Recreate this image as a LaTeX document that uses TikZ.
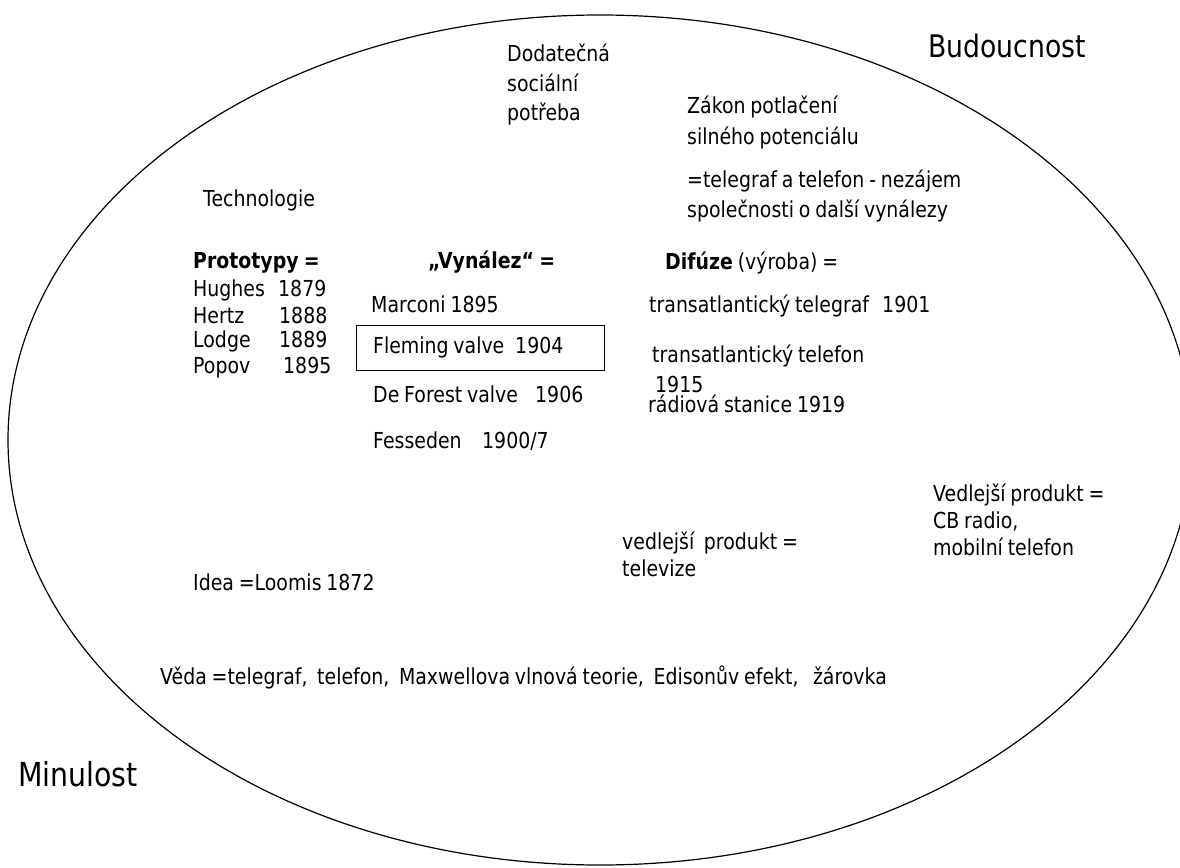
\documentclass[tikz,border=0pt]{standalone}
\usepackage{fontspec}
\setmainfont{DejaVu Sans}[FakeStretch=0.86, WordSpace=0.8]
\begin{document}
\begin{tikzpicture}[x=1pt,y=-1pt,
  txt/.style={anchor=base west, inner sep=0pt, font=\fontsize{22}{26}\selectfont},
  big/.style={anchor=base west, inner sep=0pt, font=\fontsize{31}{36}\selectfont},
  outline/.style={line width=1.2pt, draw=black}]
\useasboundingbox (0,0) rectangle (1180,867);
\clip (0,0) rectangle (1180,867);
\draw[outline] (600,440) ellipse [x radius=592pt, y radius=425pt];

\node[big] (budoucnost) at (928,58) {Budoucnost};
\node[big, font=\fontsize{33}{38}\selectfont] (minulost) at (18,786) {Minulost};

\node[txt] (dod1) at (507,62) {Dodatečná};
\node[txt] (dod2) at (507,91) {sociální};
\node[txt] (dod3) at (507,120) {potřeba};

\node[txt] (zak1) at (687,113) {Zákon potlačení};
\node[txt] (zak2) at (687,144) {silného potenciálu};
\node[txt] (zak3) at (687,187) {=telegraf a telefon - nezájem};
\node[txt] (zak4) at (687,217) {společnosti o další vynálezy};

\node[txt] (tech) at (203,206) {Technologie};

\node[txt] (proto) at (193,268) {\textbf{Prototypy =}};
\node[txt] (p1) at (193,296) {\makebox[85pt][l]{Hughes}1879};
\node[txt] (p2) at (193,323) {\makebox[86pt][l]{Hertz}1888};
\node[txt] (p3) at (193,347) {\makebox[86pt][l]{Lodge}1889};
\node[txt] (p4) at (193,373) {\makebox[90pt][l]{Popov}1895};

\node[txt] (vyn) at (428,268) {\textbf{„Vynález“ =}};
\node[txt] (v1) at (371,312) {Marconi 1895};
\node[outline, anchor=north west, minimum width=248pt, minimum height=45pt, inner sep=0pt] (box) at (356,325) {};
\node[txt] (v2) at (373,353) {\makebox[142pt][l]{Fleming valve}1904};
\node[txt] (v3) at (373,402) {\makebox[162pt][l]{De Forest valve}1906};
\node[txt] (v4) at (373,448) {\makebox[109pt][l]{Fesseden}1900/7};

\node[txt] (dif) at (665,269) {\textbf{Difúze} (výroba) =};
\node[txt] (d1) at (649,312) {\makebox[233pt][l]{transatlantický telegraf}1901};
\node[txt] (d2) at (652,362) {transatlantický telefon};
\node[txt] (d3) at (655,392) {1915};
\node[txt] (d4) at (648,412) {rádiová stanice 1919};

\node[txt] (ved1) at (933,501) {Vedlejší produkt =};
\node[txt] (ved2) at (933,528) {CB radio,};
\node[txt] (ved3) at (933,555) {mobilní telefon};

\node[txt] (tv1) at (622,549) {vedlejší\ \ produkt =};
\node[txt] (tv2) at (622,576) {televize};

\node[txt] (idea) at (193,590) {Idea =Loomis 1872};

\node[txt] (veda) at (160,684) {Věda =telegraf,\ \ telefon,\ \ Maxwellova vlnová teorie,\ \ Edisonův efekt,\ \ \ žárovka};
\end{tikzpicture}
\end{document}
